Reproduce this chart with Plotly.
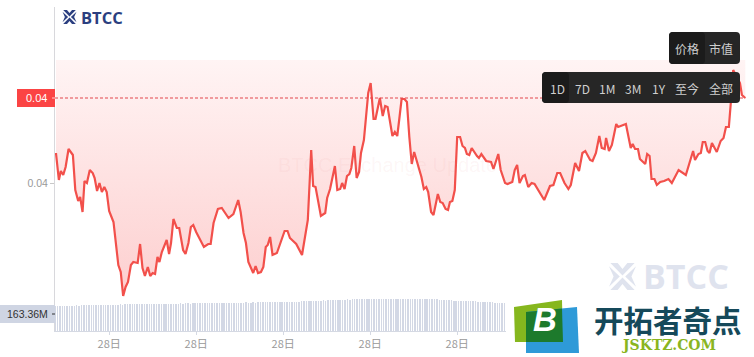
import plotly.graph_objects as go

# Time in minutes since the left edge of the chart
times = [2,8,12,17,22,28,37,42,48,52,57,61,66,72,78,82,87,92,97,102,107,112,121,126,131,136,141,146,151,157,162,171,176,181,186,192,197,202,207,212,216,221,231,236,240,245,252,257,265,270,276,281,286,292,300,308,317,322,328,337,345,359,369,379,384,390,395,400,410,415,420,426,431,436,440,445,450,459,467,470,475,481,486,499,511,523,530,534,539,550,559,563,569,579,584,590,594,599,604,609,613,619,624,629,633,639,643,648,653,659,663,668,672,678,683,688,693,698,703,708,712,717,723,728,733,738,743,753,758,763,768,772,778,783,788,792,797,802,808,813,817,822,827,832,838,843,848,852,857,862,873,877,882,892,902,907,917,922,931,936,946,951,956,961,968,972,979,986,992,1003,1012,1024,1031,1039,1045,1054,1062,1067,1076,1084,1091,1097,1107,1112,1119,1126,1131,1137,1140,1146,1152,1161,1165,1181,1191,1195,1200,1206,1210,1221,1225,1230,1234,1240,1245,1252,1260,1269,1276,1290,1305,1320,1324,1331,1336,1340,1345,1350,1354,1359,1369,1377,1383,1388,1394,1398,1403,1417,1421,1428]
# Price in units of 0.00001
price_e5 = [4030,4003,4012,4008,4016,4034,4028,3993,3982,3986,3971,4002,4000,4013,4010,4005,3992,4000,3991,3996,3991,3972,3961,3940,3918,3911,3887,3896,3901,3918,3921,3920,3939,3915,3907,3916,3907,3910,3909,3926,3921,3931,3943,3929,3940,3964,3955,3955,3933,3929,3940,3956,3958,3951,3944,3936,3939,3939,3960,3974,3975,3965,3969,3983,3971,3950,3940,3921,3910,3917,3910,3911,3916,3936,3938,3946,3928,3930,3941,3945,3952,3952,3945,3939,3928,3963,4033,3997,3996,3967,3970,3985,3994,4017,3993,3994,4000,3994,4007,4009,4015,4037,4005,4011,4030,4043,4063,4090,4100,4064,4064,4078,4085,4067,4077,4076,4060,4047,4051,4047,4063,4084,4084,4081,4046,4019,4031,4013,4006,3994,3996,3991,3971,3968,3981,3989,3981,3980,3974,3973,3981,3982,3993,4046,4046,4037,4035,4029,4028,4035,4027,4025,4029,4022,4021,4014,4029,4013,4000,3999,4001,4013,4018,4000,4007,4008,3996,4000,3999,3990,3983,3997,3998,4010,4010,4000,3994,3998,4020,4012,4030,4032,4023,4022,4030,4047,4035,4034,4045,4032,4038,4059,4056,4059,4035,4039,4034,4034,4024,4019,4029,4027,4004,4004,3998,4001,4002,4004,4000,4013,4008,4032,4023,4029,4030,4041,4041,4032,4030,4040,4031,4042,4045,4056,4056,4080,4113,4100,4088,4085]
prices = [p / 1e5 for p in price_e5]
area_top = 0.04123
area_bottom = 0.03887
last_price = 0.04085

# Volume in millions, one bar every five minutes
volume_times = list(range(0, 935, 5))
volume_m = [
    240,242,241,243,242,244,243,245,244,246,245,247,246,248,247,249,248,250,249,251,
    250,252,251,253,252,254,253,255,254,256,255,257,256,258,259,258,260,259,261,260,
    262,261,260,262,261,263,262,264,263,262,264,263,265,264,266,265,264,266,265,267,
    266,268,267,269,268,270,269,268,270,269,271,270,272,271,270,272,271,273,272,274,
    273,272,274,273,275,274,276,275,274,276,275,277,276,278,277,278,279,280,279,281,
    283,282,284,286,285,288,287,289,291,290,292,294,293,295,297,296,298,300,299,301,
    302,303,302,304,303,305,304,306,305,304,306,305,307,306,305,307,306,308,307,306,
    305,307,306,308,307,306,308,307,306,307,305,307,306,308,307,306,304,305,303,301,
    299,300,297,295,296,293,291,292,289,288,289,287,285,286,284,283,281,279,280,277,
    275,276,273,272,271,270,269,
]

tick_minutes = [112, 292, 472, 652, 832]
tick_labels = ["28日"] * 5
price_tick = [0.04]
price_tick_labels = ["0.04"]
last_price_label = "0.04"
volume_label = "163.36M"
range_buttons = ["1D", "7D", "1M", "3M", "1Y", "至今", "全部"]
metric_buttons = ["价格", "市值"]

W, H = 754, 357
L, B = 55, 331
def X(px): return (px - L) / (W - L)
def Y(py): return (B - py) / B

CJK = "Noto Sans CJK SC, Liberation Sans, sans-serif"
LAT = "Liberation Sans, Arial, sans-serif"

def poly(points, color, layer="above"):
    d = "M" + " L".join(f"{X(a):.5f},{Y(b):.5f}" for a, b in points) + " Z"
    return dict(type="path", xref="paper", yref="paper", path=d, fillcolor=color,
                line=dict(width=0), layer=layer)

def rrect(x0, y0, x1, y1, r, color):
    d = (f"M{X(x0+r):.5f},{Y(y0):.5f} L{X(x1-r):.5f},{Y(y0):.5f} Q{X(x1):.5f},{Y(y0):.5f} {X(x1):.5f},{Y(y0+r):.5f} "
         f"L{X(x1):.5f},{Y(y1-r):.5f} Q{X(x1):.5f},{Y(y1):.5f} {X(x1-r):.5f},{Y(y1):.5f} "
         f"L{X(x0+r):.5f},{Y(y1):.5f} Q{X(x0):.5f},{Y(y1):.5f} {X(x0):.5f},{Y(y1-r):.5f} "
         f"L{X(x0):.5f},{Y(y0+r):.5f} Q{X(x0):.5f},{Y(y0):.5f} {X(x0+r):.5f},{Y(y0):.5f} Z")
    return dict(type="path", xref="paper", yref="paper", path=d, fillcolor=color,
                line=dict(width=0), layer="above")

def rect(x0, y0, x1, y1, color, layer="above"):
    return dict(type="rect", xref="paper", yref="paper", x0=X(x0), x1=X(x1), y0=Y(y0), y1=Y(y1),
                fillcolor=color, line=dict(width=0), layer=layer)

def icon(x0, y0, s, color):
    parts = [
        [(.05,0),(.32,0),(.5,.22),(.68,0),(.95,0),(.5,.46)],
        [(.05,1),(.32,1),(.5,.78),(.68,1),(.95,1),(.5,.54)],
        [(0,.12),(.40,.5),(0,.88),(.17,.5)],
        [(1,.12),(.60,.5),(1,.88),(.83,.5)],
    ]
    return [poly([(x0 + u*s, y0 + v*s) for u, v in p], color) for p in parts]

def text(px, py, s, size, color, font=LAT, anchor="center", **kw):
    return dict(x=X(px), y=Y(py), xref="paper", yref="paper", text=s, showarrow=False,
                xanchor=anchor, yanchor="middle", font=dict(size=size, color=color, family=font), **kw)

fig = go.Figure()
fig.add_trace(go.Scatter(x=[times[0], times[-1]], y=[area_top, area_top], mode="lines",
                         line=dict(width=0), hoverinfo="skip", showlegend=False, yaxis="y"))
fig.add_trace(go.Scatter(x=times, y=prices, mode="lines", fill="tonexty",
                         fillgradient=dict(type="vertical", start=area_bottom, stop=area_top,
                                           colorscale=[[0, "#fdcfcf"], [1, "#fff4f4"]]),
                         line=dict(color="#f2504b", width=2.2), showlegend=False, yaxis="y"))
fig.add_trace(go.Bar(x=volume_times, y=volume_m, width=1.0, marker=dict(color="#d3d8e5", line=dict(width=0)),
                     showlegend=False, yaxis="y2"))

shapes = [
    dict(type="line", xref="x", yref="y", x0=0, x1=times[-1], y0=last_price, y1=last_price,
         line=dict(color="#e2474d", width=1, dash="3px,2px"), layer="above"),
    rect(17, 89, 55, 107, "#fb4444"),
    rect(52, 97.5, 55, 98.5, "#ffd0d0"),
    rect(0, 305, 55, 323, "#cfd5e3"),
    rect(52, 313.5, 55, 314.5, "#333333"),
    # logo panel
    rect(506, 298, 754, 357, "#ffffff"),
    poly([(514,307),(562,300),(563,342),(515,342)], "#86b71e"),
    poly([(526,312),(577,307),(579,353),(526,353)], "#2e9ad8"),
    poly([(526,312),(562,308.5),(563,342),(526,342)], "#1d7a2c"),
    rrect(542, 72, 740, 103, 4, "#262626"),
    rrect(542, 72, 569, 103, 4, "#1b1b1b"),
    rrect(669, 32, 740, 64, 4, "#262626"),
    rrect(669, 32, 705, 64, 4, "#1b1b1b"),
]
shapes += icon(62.5, 10, 14, "#2b3f80")
shapes += icon(609, 263, 27, "#dfe3ee")

ann = [
    text(36, 98, last_price_label, 11, "#ffffff"),
    text(27, 314, volume_label, 10.5, "#333333"),
    text(101.5, 17.5, "<b>BTCC</b>", 16.5, "#2b3f80", font="Open Sans"),
    text(686, 276, "<b>BTCC</b>", 34, "#dfe3ee", font="Open Sans"),
    text(387, 165, "BTCC Exchange Update", 20, "rgba(225,140,140,0.08)"),
    text(544.5, 319, "<b><i>B</i></b>", 33, "#ffffff"),
    text(668, 318.5, "<b>开拓者奇点</b>", 29.5, "#15495a", font="Noto Sans CJK SC"),
    text(668, 345, "<b>JSKTZ.COM</b>", 14, "#8ab51f", font="DejaVu Serif"),
]
for s, px in zip(range_buttons, [557, 582, 607, 633, 659, 687, 721]):
    ann.append(text(px, 88, s, 12, "#cfcfcf", font=CJK))
for s, px in zip(metric_buttons, [687, 721]):
    ann.append(text(px, 48, s, 12, "#cfcfcf", font=CJK))

fig.update_layout(
    width=W, height=H, autosize=False,
    margin=dict(l=L, r=0, t=0, b=H - B, pad=0),
    plot_bgcolor="#ffffff", paper_bgcolor="#ffffff",
    bargap=0, showlegend=False,
    xaxis=dict(range=[0, 1446], anchor="y2", showgrid=False, zeroline=False,
               tickmode="array", tickvals=tick_minutes, ticktext=tick_labels,
               ticks="outside", ticklen=3, tickcolor="#d5d9e3", showline=True, linecolor="#d5d9e3",
               tickfont=dict(size=11, color="#999999", family=CJK)),
    yaxis=dict(domain=[Y(298), Y(7)], range=[0.03885, 0.04176], showgrid=False, zeroline=False,
               tickmode="array", tickvals=price_tick, ticktext=price_tick_labels,
               ticks="outside", ticklen=4, tickcolor="#c8c8c8", showline=True, linecolor="#d8d8dc",
               tickfont=dict(size=10.5, color="#999999", family=LAT)),
    yaxis2=dict(domain=[0, Y(298)], range=[0, 317], showgrid=False, zeroline=False,
                showticklabels=False, ticks="", showline=True, linecolor="#d8d8dc"),
    shapes=shapes, annotations=ann,
)
assert len(times) == len(price_e5)
fig.write_html("out.html", config=dict(displayModeBar=False),
               post_script="document.body.style.margin='0';document.documentElement.style.overflow='hidden';")
